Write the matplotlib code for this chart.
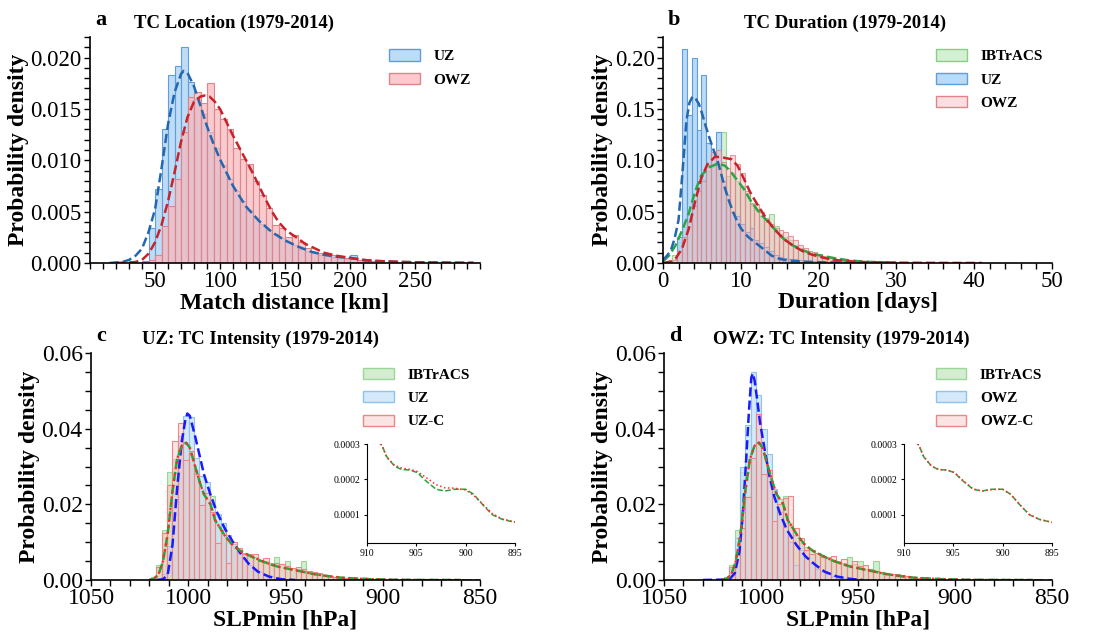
import numpy as np
import matplotlib
matplotlib.use("Agg")
import matplotlib.pyplot as plt
from matplotlib.ticker import MultipleLocator, FixedLocator, FormatStrFormatter
from matplotlib.patches import Patch
from matplotlib.colors import to_rgba

plt.rcParams['font.family'] = ['Liberation Serif', 'DejaVu Serif']

# ---------------- Panel a: TC location (match distance, km) ----------------
loc_bin_start = 40.0
loc_bin_width = 5.0
loc_uz_hist = [0.0002, 0.0034, 0.0072, 0.0130, 0.0183, 0.0192, 0.0210, 0.0176, 0.0160, 0.0145,
               0.0128, 0.0112, 0.0095, 0.0082, 0.0070, 0.0060, 0.0052, 0.0044, 0.0038, 0.0032,
               0.0028, 0.0024, 0.0020, 0.0018, 0.0014, 0.0012, 0.0010, 0.0008, 0.0007, 0.0006,
               0.0005, 0.0004, 0.0008, 0.0003, 0.0002, 0.0002]
loc_owz_hist = [0.0001, 0.0003, 0.0008, 0.0036, 0.0055, 0.0082, 0.0128, 0.0162, 0.0166, 0.0156,
                0.0175, 0.0150, 0.0140, 0.0130, 0.0112, 0.0101, 0.0096, 0.0080, 0.0066, 0.0054,
                0.0037, 0.0034, 0.0025, 0.0027, 0.0020, 0.0015, 0.0011, 0.0010, 0.0009, 0.0008,
                0.0007, 0.0005, 0.0004, 0.0003, 0.0002, 0.0002]
loc_uz_kde_km = [15, 25, 30, 35, 40, 45, 50, 55, 60, 65, 70, 72, 75, 80, 85, 90, 95, 100, 110, 120,
                 130, 140, 150, 160, 170, 180, 190, 200, 210, 220, 240, 260, 280, 295]
loc_uz_kde = [0.0, 0.0001, 0.0003, 0.0007, 0.0014, 0.0030, 0.0052, 0.0092, 0.0135, 0.0166, 0.0184,
              0.0187, 0.0185, 0.0172, 0.0153, 0.0133, 0.0116, 0.0101, 0.0075, 0.0055, 0.0041,
              0.0030, 0.0022, 0.0016, 0.0011, 0.0008, 0.0006, 0.0005, 0.0003, 0.0002, 0.0001,
              0.00005, 0.00002, 0.0]
loc_owz_kde_km = [20, 30, 35, 40, 45, 50, 55, 60, 65, 70, 75, 80, 85, 88, 92, 96, 100, 105, 110, 115,
                  120, 125, 130, 135, 140, 145, 150, 155, 160, 165, 170, 180, 190, 200, 210, 220,
                  240, 260, 280, 295]
loc_owz_kde = [0.0, 0.00005, 0.0001, 0.0003, 0.0009, 0.0020, 0.0037, 0.0060, 0.0088, 0.0118,
               0.0142, 0.0157, 0.0162, 0.0163, 0.0162, 0.0157, 0.0150, 0.0137, 0.0124, 0.0112,
               0.0100, 0.0088, 0.0075, 0.0062, 0.0050, 0.0040, 0.0033, 0.0028, 0.0024, 0.0019,
               0.0016, 0.0010, 0.0007, 0.0005, 0.0003, 0.0002, 0.0001, 0.00005, 0.00003, 0.00002]

# ---------------- Panel b: TC duration (days) ----------------
dur_bin_start = 0.6
dur_bin_width = 0.62
dur_ib_hist = [0.002, 0.008, 0.020, 0.035, 0.048, 0.060, 0.072, 0.082, 0.090, 0.093, 0.095, 0.128,
               0.085, 0.088, 0.080, 0.075, 0.068, 0.058, 0.052, 0.046, 0.040, 0.048, 0.036, 0.028,
               0.025, 0.022, 0.018, 0.015, 0.012, 0.010, 0.008, 0.007, 0.006, 0.005, 0.004, 0.003,
               0.003, 0.002, 0.002, 0.001, 0.001]
dur_uz_hist = [0.0, 0.0, 0.025, 0.208, 0.144, 0.200, 0.129, 0.183, 0.117, 0.108, 0.128, 0.080,
               0.066, 0.050, 0.046, 0.038, 0.030, 0.034, 0.022, 0.019, 0.016, 0.012, 0.008, 0.006,
               0.005, 0.004, 0.004, 0.003, 0.002, 0.002, 0.0015, 0.001, 0.001, 0.0008, 0.0006,
               0.0005, 0.0004, 0.0003, 0.0002, 0.0002, 0.0001]
dur_owz_hist = [0.0, 0.003, 0.012, 0.025, 0.040, 0.055, 0.070, 0.080, 0.095, 0.108, 0.110, 0.098,
                0.092, 0.105, 0.096, 0.088, 0.070, 0.057, 0.057, 0.050, 0.044, 0.038, 0.034, 0.032,
                0.030, 0.026, 0.022, 0.018, 0.015, 0.012, 0.011, 0.009, 0.007, 0.006, 0.005, 0.004,
                0.003, 0.003, 0.002, 0.002, 0.001]
dur_uz_kde_days = [0, 0.5, 1.0, 1.5, 2.0, 2.5, 3.0, 3.4, 3.8, 4.2, 4.6, 5.0, 5.5, 6.0, 6.5, 7.0, 7.5,
                   8.0, 8.5, 9.0, 9.5, 10.0, 10.5, 11.0, 12.0, 13.0, 14.0, 15.0, 16.0, 18.0, 20.0,
                   24.0, 30.0]
dur_uz_kde = [0.003, 0.007, 0.012, 0.024, 0.042, 0.088, 0.138, 0.156, 0.162, 0.160, 0.155, 0.146,
              0.133, 0.121, 0.110, 0.100, 0.086, 0.072, 0.060, 0.050, 0.041, 0.034, 0.029, 0.025,
              0.019, 0.013, 0.007, 0.004, 0.0025, 0.0013, 0.0008, 0.0003, 0.0]
dur_owz_kde_days = [0, 1.0, 1.6, 2.45, 3.3, 4.1, 4.9, 5.7, 6.7, 7.75, 8.8, 9.6, 10.4, 11.2, 12.2,
                    13.3, 14.3, 15.5, 16.7, 18.0, 19.2, 20.8, 22.4, 24.0, 26.0, 30.0, 35.0, 41.0]
dur_owz_kde = [0.0, 0.0015, 0.004, 0.014, 0.033, 0.059, 0.082, 0.096, 0.1035, 0.1026, 0.101, 0.0945,
               0.082, 0.069, 0.056, 0.043, 0.033, 0.0235, 0.017, 0.0113, 0.008, 0.0048, 0.0026,
               0.0016, 0.0009, 0.0003, 0.0001, 0.0]
dur_ib_kde_days = [0, 0.8, 1.6, 2.45, 3.3, 4.1, 4.9, 5.9, 7.1, 8.0, 8.8, 9.6, 10.4, 11.4, 12.4, 13.5,
                   14.5, 15.5, 16.7, 18.0, 19.2, 20.8, 22.4, 24.0, 26.0, 30.0]
dur_ib_kde = [0.0016, 0.0074, 0.017, 0.0316, 0.048, 0.069, 0.085, 0.093, 0.097, 0.0945, 0.088,
              0.080, 0.072, 0.059, 0.049, 0.040, 0.0316, 0.0235, 0.017, 0.0123, 0.009, 0.0065,
              0.0042, 0.0025, 0.0012, 0.0003]

# ---------------- Panels c, d: TC intensity (SLPmin, hPa) ----------------
slp_bin_start = 1021.85
slp_bin_width = 2.75
slp_ib_hist = [0.0001, 0.0008, 0.0040, 0.0133, 0.0285, 0.0320, 0.0350, 0.0365, 0.0330, 0.0290,
               0.0240, 0.0215, 0.0223, 0.0150, 0.0120, 0.0098, 0.0088, 0.0080, 0.0072, 0.0064,
               0.0060, 0.0054, 0.0050, 0.0045, 0.0061, 0.0042, 0.0051, 0.0030, 0.0028, 0.0051,
               0.0022, 0.0019, 0.0016, 0.0014, 0.0011, 0.0009, 0.0007, 0.0005, 0.0004, 0.0003]
slp_uz_hist = [0.0, 0.0, 0.0002, 0.0015, 0.0090, 0.0250, 0.0380, 0.0434, 0.0430, 0.0323,
               0.0274, 0.0260, 0.0200, 0.0175, 0.0150, 0.0118, 0.0095, 0.0072, 0.0055, 0.0040,
               0.0030, 0.0020, 0.0014, 0.0010, 0.0006, 0.0004, 0.0002, 0.0001, 0.0, 0.0,
               0.0, 0.0, 0.0, 0.0, 0.0, 0.0, 0.0, 0.0, 0.0, 0.0]
slp_uzc_hist = [0.0001, 0.0006, 0.0035, 0.0125, 0.0250, 0.0367, 0.0414, 0.0316, 0.0340, 0.0279,
                0.0199, 0.0230, 0.0181, 0.0097, 0.0133, 0.0045, 0.0100, 0.0085, 0.0070, 0.0069,
                0.0069, 0.0050, 0.0058, 0.0040, 0.0045, 0.0042, 0.0038, 0.0032, 0.0035, 0.0030,
                0.0025, 0.0020, 0.0018, 0.0013, 0.0011, 0.0008, 0.0007, 0.0005, 0.0004, 0.0003]
slp_owz_hist = [0.0002, 0.0008, 0.0030, 0.0110, 0.0300, 0.0411, 0.0551, 0.0490, 0.0398, 0.0332,
                0.0240, 0.0180, 0.0150, 0.0100, 0.0040, 0.0080, 0.0060, 0.0045, 0.0030, 0.0022,
                0.0015, 0.0010, 0.0006, 0.0004, 0.0002, 0.0001, 0.0, 0.0, 0.0, 0.0,
                0.0, 0.0, 0.0, 0.0, 0.0, 0.0, 0.0, 0.0, 0.0, 0.0]
slp_owzc_hist = [0.0001, 0.0005, 0.0035, 0.0066, 0.0137, 0.0220, 0.0323, 0.0438, 0.0279, 0.0290,
                 0.0155, 0.0200, 0.0217, 0.0223, 0.0137, 0.0112, 0.0080, 0.0070, 0.0072, 0.0060,
                 0.0058, 0.0064, 0.0048, 0.0056, 0.0040, 0.0050, 0.0036, 0.0040, 0.0028, 0.0025,
                 0.0020, 0.0018, 0.0015, 0.0016, 0.0012, 0.0010, 0.0007, 0.0005, 0.0004, 0.0003]

slp_kde_hpa = [1020, 1017.9, 1015.4, 1013, 1010.6, 1008.1, 1005.7, 1003.3, 1001.1, 999.2, 996.7,
               994.3, 991.9, 988.6, 986.2, 983.7, 981.3, 977.2, 973.2, 968.3, 963.4, 958.5, 953.7,
               948.8, 942.3, 935.8, 929.3, 921.1, 915, 910, 908.5, 908, 907.2, 906.5, 905.6, 904.9,
               904, 903, 902.1, 901.1, 900, 899.2, 898.2, 897.3, 896.3, 895.1, 890, 880, 870, 860]
slp_ib_kde = [0.0, 0.0003, 0.0013, 0.0049, 0.0120, 0.0235, 0.0320, 0.0355, 0.0363, 0.0350, 0.0305,
              0.0262, 0.0226, 0.0201, 0.0158, 0.0138, 0.0118, 0.0092, 0.0077, 0.0064, 0.0052,
              0.0043, 0.0035, 0.0030, 0.0023, 0.0016, 0.0011, 0.0006, 0.00042, 0.00033, 0.000297,
              0.000264, 0.000237, 0.000228, 0.000226, 0.000219, 0.000195, 0.000172, 0.000167,
              0.000172, 0.000172, 0.000158, 0.000126, 0.000100, 0.000087, 0.000079, 0.00005,
              0.00002, 0.00001, 0.000005]
slp_uzc_kde = [0.0, 0.0003, 0.0013, 0.0050, 0.0121, 0.0236, 0.0321, 0.0356, 0.0362, 0.0349, 0.0304,
               0.0261, 0.0227, 0.0200, 0.0159, 0.0137, 0.0118, 0.0093, 0.0076, 0.0064, 0.0053,
               0.0043, 0.0035, 0.0030, 0.0023, 0.0016, 0.0011, 0.0006, 0.00042, 0.00033, 0.000297,
               0.000262, 0.000240, 0.000232, 0.000228, 0.000222, 0.000205, 0.000185, 0.000176,
               0.000175, 0.000170, 0.000155, 0.000128, 0.000103, 0.000088, 0.000080, 0.00005,
               0.00002, 0.00001, 0.000005]
slp_owzc_kde = [0.0, 0.0003, 0.0013, 0.0049, 0.0120, 0.0235, 0.0320, 0.0355, 0.0363, 0.0350, 0.0305,
                0.0262, 0.0226, 0.0201, 0.0158, 0.0138, 0.0118, 0.0092, 0.0077, 0.0064, 0.0052,
                0.0043, 0.0035, 0.0030, 0.0023, 0.0016, 0.0011, 0.0006, 0.00042, 0.00033, 0.000297,
                0.000264, 0.000237, 0.000228, 0.000226, 0.000220, 0.000196, 0.000173, 0.000167,
                0.000171, 0.000172, 0.000158, 0.000127, 0.000101, 0.000087, 0.000079, 0.00005,
                0.00002, 0.00001, 0.000005]
slp_uz_kde_hpa = [1016, 1013, 1010.6, 1008.1, 1005.7, 1003.3, 1001.6, 1000.5, 999.2, 996.7, 994.3,
                  991.9, 988.6, 985.4, 981.3, 977.2, 973.2, 969.1, 964.2, 958.5, 952, 945]
slp_uz_kde = [0.0, 0.0002, 0.0013, 0.0093, 0.0243, 0.0367, 0.0420, 0.0440, 0.0434, 0.0385, 0.0332,
              0.0279, 0.0226, 0.0181, 0.0137, 0.0102, 0.0071, 0.0044, 0.0022, 0.0009, 0.0002, 0.0]
slp_owz_kde_hpa = [1030, 1020, 1015.9, 1013.5, 1011.1, 1009.4, 1007.8, 1006.2, 1005.0, 1004.2,
                   1003.3, 1002.1, 1000.5, 998.0, 995.6, 993.2, 990.0, 986.7, 981.8, 977.0, 972.0,
                   967.2, 960.7, 954.0, 947.6]
slp_owz_kde = [0.0, 0.0001, 0.0004, 0.0018, 0.0075, 0.0173, 0.0305, 0.0447, 0.0535, 0.0546, 0.0527,
               0.0482, 0.0416, 0.0341, 0.0274, 0.0221, 0.0173, 0.0133, 0.0093, 0.0062, 0.0040,
               0.0022, 0.0009, 0.0003, 0.0]
slp_tail_hpa = [880, 850]
slp_tail = [0.0, 0.0]

# ---------------- figure ----------------
W, H = 1102, 637
fig = plt.figure(figsize=(W / 100, H / 100), dpi=100)


def rect(l, t, r, b):
    return [l / W, 1 - b / H, (r - l) / W, (b - t) / H]


def style_axes(ax, fs):
    for s in ('top', 'right'):
        ax.spines[s].set_visible(False)
    for s in ('left', 'bottom'):
        ax.spines[s].set_linewidth(1.2)
    ax.tick_params(which='both', direction='out', length=4, width=1.0, labelsize=fs, pad=2)
    ax.set_facecolor('none')


def hist(ax, start, width, heights, face, edge, falpha, ealpha=1.0, lw=0.8):
    edges = start + width * np.arange(len(heights))
    ax.bar(edges, heights, width=width, align='edge',
           facecolor=to_rgba(face, falpha), edgecolor=to_rgba(edge, ealpha), linewidth=lw)


def legend(ax, items, anchor):
    handles = [Patch(facecolor=to_rgba(f, a), edgecolor=e, linewidth=1.0, label=l)
               for (l, f, e, a) in items]
    ax.legend(handles=handles, loc='upper left', bbox_to_anchor=anchor, frameon=False,
              prop={'weight': 'bold', 'size': 11}, handlelength=2.0, handleheight=0.75,
              labelspacing=0.62, handletextpad=0.9, borderaxespad=0, borderpad=0)


def headings(ax, letter, title, tx):
    ax.text(0.013, 1.075, letter, transform=ax.transAxes, fontsize=16, fontweight='bold',
            ha='left', va='center')
    ax.text(tx, 1.062, title, transform=ax.transAxes, fontsize=13.5, fontweight='bold',
            ha='center', va='center')


LABEL_FS = 17

# colours
c_uz_face, c_uz_edge = '#a9d1f3', '#5e9fdb'
c_owz_face, c_owz_edge = '#f7b7bc', '#e0848b'
c_ib_face, c_ib_edge = '#b5e0ae', '#86cf86'
kde_blue, kde_red, kde_green = '#2467ad', '#c8232b', '#27a844'

# ---- a ----
ax = fig.add_axes(rect(90, 37, 480, 263))
style_axes(ax, 16.5)
hist(ax, loc_bin_start, loc_bin_width, loc_uz_hist, c_uz_face, c_uz_edge, 0.75)
hist(ax, loc_bin_start, loc_bin_width, loc_owz_hist, c_owz_face, c_owz_edge, 0.72)
ax.plot(loc_uz_kde_km, loc_uz_kde, '--', color=kde_blue, lw=1.8)
ax.plot(loc_owz_kde_km, loc_owz_kde, '--', color=kde_red, lw=1.8)
ax.set_xlim(0, 300)
ax.set_ylim(0, 0.022)
ax.xaxis.set_major_locator(FixedLocator([50, 100, 150, 200, 250]))
ax.xaxis.set_minor_locator(MultipleLocator(10))
ax.yaxis.set_major_locator(MultipleLocator(0.005))
ax.yaxis.set_minor_locator(MultipleLocator(0.001))
ax.yaxis.set_major_formatter(FormatStrFormatter('%.3f'))
ax.set_xlabel('Match distance [km]', fontsize=LABEL_FS, fontweight='bold', labelpad=0)
ax.set_ylabel('Probability density', fontsize=LABEL_FS, fontweight='bold', labelpad=1)
legend(ax, [('UZ', c_uz_face, c_uz_edge, 0.75), ('OWZ', c_owz_face, c_owz_edge, 0.72)],
       (0.767, 0.945))
headings(ax, 'a', 'TC Location (1979-2014)', 0.369)

# ---- b ----
ax = fig.add_axes(rect(663, 37, 1052, 263))
style_axes(ax, 16.5)
hist(ax, dur_bin_start, dur_bin_width, dur_ib_hist, c_ib_face, c_ib_edge, 0.55, 0.8)
hist(ax, dur_bin_start, dur_bin_width, dur_uz_hist, c_uz_face, c_uz_edge, 0.8)
hist(ax, dur_bin_start, dur_bin_width, dur_owz_hist, c_owz_face, c_owz_edge, 0.45, 0.8)
ax.plot(dur_ib_kde_days, dur_ib_kde, '--', color=kde_green, lw=1.8)
ax.plot(dur_uz_kde_days, dur_uz_kde, '--', color=kde_blue, lw=1.8)
ax.plot(dur_owz_kde_days, dur_owz_kde, '--', color=kde_red, lw=1.8)
ax.set_xlim(0, 50)
ax.set_ylim(0, 0.22)
ax.xaxis.set_major_locator(MultipleLocator(10))
ax.xaxis.set_minor_locator(MultipleLocator(2))
ax.yaxis.set_major_locator(MultipleLocator(0.05))
ax.yaxis.set_minor_locator(MultipleLocator(0.01))
ax.yaxis.set_major_formatter(FormatStrFormatter('%.2f'))
ax.set_xlabel('Duration [days]', fontsize=LABEL_FS, fontweight='bold', labelpad=0)
ax.set_ylabel('Probability density', fontsize=LABEL_FS, fontweight='bold', labelpad=1)
legend(ax, [('IBTrACS', c_ib_face, c_ib_edge, 0.55), ('UZ', c_uz_face, c_uz_edge, 0.8),
            ('OWZ', c_owz_face, c_owz_edge, 0.45)], (0.702, 0.945))
headings(ax, 'b', 'TC Duration (1979-2014)', 0.468)

# ---- c, d ----
cd_ib_face, cd_ib_edge = '#c2e5bb', '#9ad89a'
cd_b_face, cd_b_edge = '#c6e2f8', '#8fc3ef'
cd_r_face, cd_r_edge = '#f6bcbc', '#f08585'


def intensity_panel(r, letter, title, tx, name, m_hist, c_hist, m_kde_x, m_kde, c_kde, inset_r):
    ax = fig.add_axes(rect(*r))
    style_axes(ax, 17)
    hist(ax, slp_bin_start, -slp_bin_width, slp_ib_hist, cd_ib_face, cd_ib_edge, 0.7)
    hist(ax, slp_bin_start, -slp_bin_width, m_hist, cd_b_face, cd_b_edge, 0.75)
    hist(ax, slp_bin_start, -slp_bin_width, c_hist, cd_r_face, cd_r_edge, 0.4)
    ax.plot(m_kde_x, m_kde, '--', color='#1a1aff', lw=1.8)
    ax.plot(slp_kde_hpa, slp_ib_kde, '--', color='#22a838', lw=1.8)
    ax.plot(slp_kde_hpa, c_kde, ':', color='#ff2a2a', lw=1.6)
    ax.plot(slp_tail_hpa, slp_tail, '--', color='#4a4a4a', lw=1.8)
    ax.set_xlim(1050, 850)
    ax.set_ylim(0, 0.06)
    ax.xaxis.set_major_locator(MultipleLocator(50))
    ax.xaxis.set_minor_locator(MultipleLocator(10))
    ax.yaxis.set_major_locator(MultipleLocator(0.02))
    ax.yaxis.set_minor_locator(MultipleLocator(0.005))
    ax.yaxis.set_major_formatter(FormatStrFormatter('%.2f'))
    ax.set_xlabel('SLPmin [hPa]', fontsize=LABEL_FS, fontweight='bold', labelpad=0)
    ax.set_ylabel('Probability density', fontsize=LABEL_FS, fontweight='bold', labelpad=1)
    legend(ax, [('IBTrACS', cd_ib_face, cd_ib_edge, 0.7), (name, cd_b_face, cd_b_edge, 0.75),
                (name + '-C', cd_r_face, cd_r_edge, 0.4)], (0.70, 0.935))
    headings(ax, letter, title, tx)
    # inset
    axi = fig.add_axes(rect(*inset_r))
    for s in ('top', 'right'):
        axi.spines[s].set_visible(False)
    axi.set_facecolor('none')
    axi.plot(slp_kde_hpa, slp_ib_kde, '--', color='#22a838', lw=1.1)
    axi.plot(slp_kde_hpa, c_kde, ':', color='#ff2a2a', lw=1.1)
    axi.set_xlim(910, 895)
    axi.set_ylim(0.00002, 0.0003)
    axi.set_xticks([910, 905, 900, 895])
    axi.set_yticks([0.0001, 0.0002, 0.0003])
    axi.yaxis.set_major_formatter(FormatStrFormatter('%.4f'))
    axi.tick_params(direction='out', length=2.5, width=0.8, labelsize=7, pad=2)
    return ax


intensity_panel((91, 353, 480, 580), 'c', 'UZ: TC Intensity (1979-2014)', 0.435, 'UZ',
                slp_uz_hist, slp_uzc_hist, slp_uz_kde_hpa, slp_uz_kde, slp_uzc_kde,
                (367, 444, 515, 543))
intensity_panel((664, 353, 1052, 580), 'd', 'OWZ: TC Intensity (1979-2014)', 0.456, 'OWZ',
                slp_owz_hist, slp_owzc_hist, slp_owz_kde_hpa, slp_owz_kde, slp_owzc_kde,
                (904, 444, 1052, 543))

fig.savefig('out.png', dpi=100)
